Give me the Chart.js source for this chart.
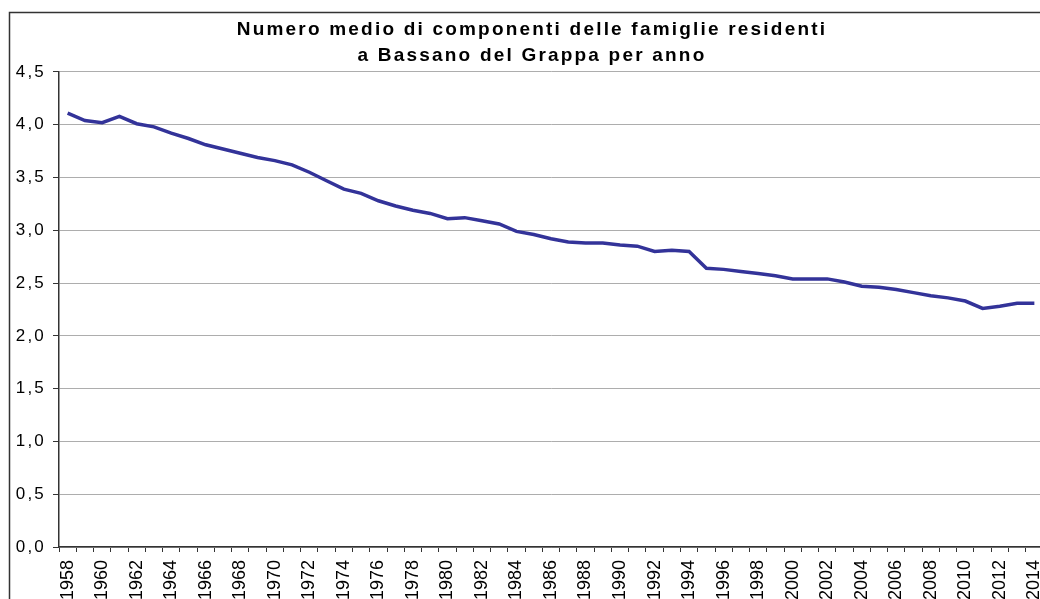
<!DOCTYPE html>
<html>
<head>
<meta charset="utf-8">
<script src="https://cdn.jsdelivr.net/npm/chart.js@4"></script>
<style>
  html, body { margin: 0; padding: 0; background: #fff; overflow: hidden; }
  canvas { display: block; }
</style>
</head>
<body>
<canvas id="famiglie-chart" width="1064" height="599"></canvas>
<script>
const titleLines = ['Numero medio di componenti delle famiglie residenti', 'a Bassano del Grappa per anno'];

const years = [
  '1958', '1959', '1960', '1961', '1962', '1963', '1964', '1965', '1966', '1967',
  '1968', '1969', '1970', '1971', '1972', '1973', '1974', '1975', '1976', '1977',
  '1978', '1979', '1980', '1981', '1982', '1983', '1984', '1985', '1986', '1987',
  '1988', '1989', '1990', '1991', '1992', '1993', '1994', '1995', '1996', '1997',
  '1998', '1999', '2000', '2001', '2002', '2003', '2004', '2005', '2006', '2007',
  '2008', '2009', '2010', '2011', '2012', '2013', '2014'
];

const componenti = [
  4.11, 4.04, 4.02, 4.08, 4.01, 3.98, 3.92, 3.87, 3.81, 3.77,
  3.73, 3.69, 3.66, 3.62, 3.55, 3.47, 3.39, 3.35, 3.28, 3.23,
  3.19, 3.16, 3.11, 3.12, 3.09, 3.06, 2.99, 2.96, 2.92, 2.89,
  2.88, 2.88, 2.86, 2.85, 2.80, 2.81, 2.80, 2.64, 2.63, 2.61,
  2.59, 2.57, 2.54, 2.54, 2.54, 2.51, 2.47, 2.46, 2.44, 2.41,
  2.38, 2.36, 2.33, 2.26, 2.28, 2.31, 2.31
];

const yMin = 0;
const yMax = 4.5;
const yStep = 0.5;

const fontFamily = '"Liberation Sans", Arial, sans-serif';

// frame around the whole chart + wider letter spacing like the original
const frame = {
  id: 'frame',
  beforeUpdate(chart) {
    chart.ctx.letterSpacing = '2.2px';
  },
  beforeDraw(chart) {
    const ctx = chart.ctx;
    ctx.save();
    ctx.fillStyle = '#fff';
    ctx.fillRect(0, 0, chart.width, chart.height);
    ctx.strokeStyle = '#333';
    ctx.lineWidth = 1.5;
    ctx.strokeRect(9.5, 12.5, 1045, 620);
    ctx.restore();
    ctx.letterSpacing = '2.2px';
  },
  afterDatasetsDraw(chart) {
    chart.ctx.letterSpacing = '0px';
  }
};

new Chart(document.getElementById('famiglie-chart'), {
  type: 'line',
  data: {
    labels: years,
    datasets: [{
      data: componenti,
      borderColor: '#333399',
      borderWidth: 3.5,
      pointRadius: 0,
      tension: 0,
      fill: false
    }]
  },
  options: {
    responsive: false,
    animation: false,
    devicePixelRatio: 1,
    layout: { padding: 0 },
    plugins: {
      legend: { display: false },
      tooltip: { enabled: false },
      title: {
        display: true,
        text: titleLines,
        color: '#000',
        font: { family: fontFamily, size: 19, weight: 'bold', lineHeight: 1.41 },
        padding: { top: 16, bottom: 2.4 }
      }
    },
    scales: {
      x: {
        type: 'category',
        offset: true,
        grid: {
          offset: true,
          drawOnChartArea: false,
          drawTicks: true,
          tickLength: 5,
          tickColor: '#333',
          tickWidth: 1
        },
        border: { display: true, color: '#333', width: 1.5 },
        ticks: {
          z: 1,
          autoSkip: false,
          minRotation: 90,
          maxRotation: 90,
          padding: 8,
          color: '#000',
          font: { family: fontFamily, size: 18 },
          callback: (v, i) => (i % 2 === 0 ? years[i] : '')
        },
        afterFit(scale) {
          scale.height = 52;
          scale.paddingLeft = 0;
          scale.paddingRight = 0;
        }
      },
      y: {
        min: yMin,
        max: yMax,
        grid: {
          color: '#adadad',
          lineWidth: 1,
          drawTicks: true,
          tickLength: 6,
          tickColor: '#333'
        },
        border: { display: true, color: '#333', width: 1.5 },
        ticks: {
          stepSize: yStep,
          padding: 7,
          color: '#000',
          font: { family: fontFamily, size: 17 },
          callback: (v) => v.toFixed(1).replace('.', ',')
        },
        afterFit(scale) {
          scale.width = 59;
          scale.paddingTop = 0;
          scale.paddingBottom = 0;
        }
      },
      // empty strip on the right, keeps the title centred on the frame
      spacer: {
        position: 'right',
        grid: { display: false, drawTicks: false },
        border: { display: false },
        ticks: { display: false },
        afterFit(scale) {
          scale.width = 21;
          scale.paddingTop = 0;
          scale.paddingBottom = 0;
        }
      }
    }
  },
  plugins: [frame]
});
</script>
</body>
</html>
